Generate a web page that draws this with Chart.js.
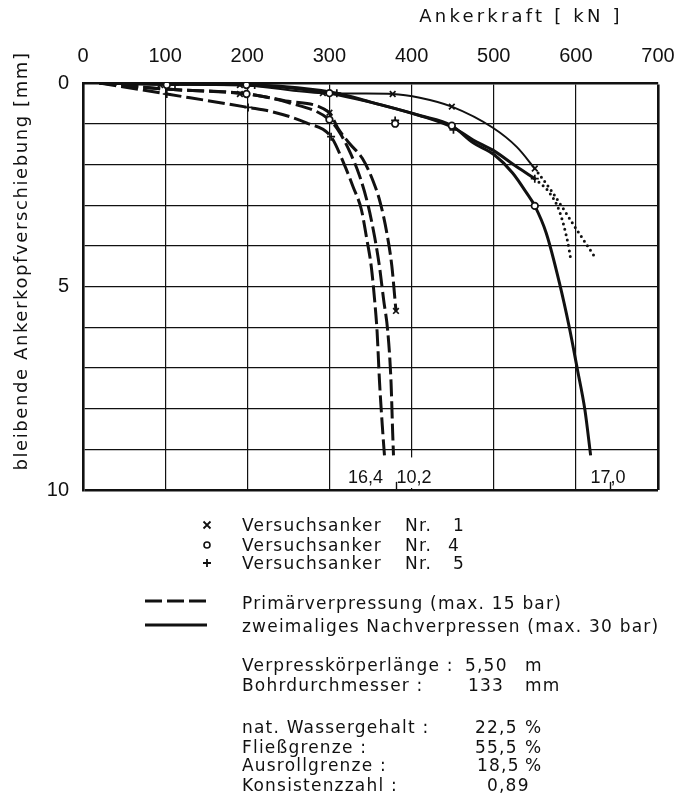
<!DOCTYPE html>
<html lang="de">
<head>
<meta charset="utf-8">
<title>Ankerkraft – bleibende Ankerkopfverschiebung</title>
<script src="https://cdn.jsdelivr.net/npm/chart.js@4.4.1/dist/chart.umd.min.js"></script>
<style>
  body { margin: 0; background: #fff; }
  #wrap { position: relative; width: 675px; height: 799px; overflow: hidden; }
  #chart { position: absolute; left: 0; top: 0; }
  #zeichen { position: absolute; left: 0; top: 0; }
  .t {
    position: absolute;
    font-family: "DejaVu Sans", sans-serif;
    font-size: 17px;
    line-height: 20px;
    color: #111;
    letter-spacing: 1.2px;
    white-space: pre;
  }
</style>
</head>
<body>
<div id="wrap">
  <canvas id="chart" width="675" height="500"></canvas>

  <!-- Legende: Symbole und Linienarten -->
  <svg id="zeichen" width="675" height="799">
    <g stroke="#111" stroke-width="1.8" fill="none">
      <path d="M203.5 521.5 L210.5 528.5 M203.5 528.5 L210.5 521.5"/>
      <circle cx="207" cy="545" r="3" fill="#fff" stroke-width="1.6"/>
      <path d="M207 559 L207 567 M203 563 L211 563"/>
      <line x1="145" y1="601" x2="207" y2="601" stroke-width="3" stroke-dasharray="17 5"/>
      <line x1="145" y1="625" x2="207" y2="625" stroke-width="3"/>
    </g>
  </svg>

  <div class="t" style="left:242px; top:515px">Versuchsanker</div>
  <div class="t" style="left:405px; top:515px">Nr.</div>
  <div class="t" style="left:453px; top:515px">1</div>
  <div class="t" style="left:242px; top:535px">Versuchsanker</div>
  <div class="t" style="left:405px; top:535px">Nr.</div>
  <div class="t" style="left:448px; top:535px">4</div>
  <div class="t" style="left:242px; top:553px">Versuchsanker</div>
  <div class="t" style="left:405px; top:553px">Nr.</div>
  <div class="t" style="left:453px; top:553px">5</div>

  <div class="t" style="left:242px; top:593px">Primärverpressung (max. 15 bar)</div>
  <div class="t" style="left:242px; top:616px">zweimaliges Nachverpressen (max. 30 bar)</div>

  <div class="t" style="left:242px; top:655px">Verpresskörperlänge :</div>
  <div class="t" style="left:465px; top:655px">5,50</div>
  <div class="t" style="left:525px; top:655px">m</div>
  <div class="t" style="left:242px; top:675px">Bohrdurchmesser :</div>
  <div class="t" style="left:468px; top:675px">133</div>
  <div class="t" style="left:525px; top:675px">mm</div>

  <div class="t" style="left:242px; top:717px">nat. Wassergehalt :</div>
  <div class="t" style="left:475px; top:717px">22,5</div>
  <div class="t" style="left:525px; top:717px">%</div>
  <div class="t" style="left:242px; top:737px">Fließgrenze :</div>
  <div class="t" style="left:475px; top:737px">55,5</div>
  <div class="t" style="left:525px; top:737px">%</div>
  <div class="t" style="left:242px; top:755px">Ausrollgrenze :</div>
  <div class="t" style="left:477px; top:755px">18,5</div>
  <div class="t" style="left:525px; top:755px">%</div>
  <div class="t" style="left:242px; top:775px">Konsistenzzahl :</div>
  <div class="t" style="left:487px; top:775px">0,89</div>
</div>

<script>
// ── Achsenbeschriftung ────────────────────────────────────────
const kraftLabels = [0, 100, 200, 300, 400, 500, 600, 700];   // kN
const wegLabels   = [0, 5, 10];                                  // mm

// ── Primärverpressung (gestrichelt) ───────────────────────────
const primaerKraft1 = [20, 100, 200, 250, 300, 310, 325, 340, 353, 362, 370, 376, 381];
const primaerWeg1   = [0, 0.15, 0.27, 0.45, 0.73, 1.1, 1.5, 1.85, 2.4, 2.95, 3.7, 4.5, 5.6];
const primaerKraft4 = [20, 100, 200, 250, 300, 312, 325, 337, 347, 355, 361, 366, 371, 375, 377, 378];
const primaerWeg4   = [0, 0.15, 0.27, 0.48, 0.9, 1.2, 1.7, 2.3, 3.0, 3.78, 4.52, 5.33, 6.1, 7.35, 8.6, 9.15];
const primaerKraft5 = [20, 102, 201, 231, 272, 302, 318, 329, 339, 345, 351, 355, 358, 361, 365, 367];
const primaerWeg5   = [0, 0.27, 0.6, 0.71, 0.98, 1.32, 2.0, 2.56, 3.12, 3.78, 4.52, 5.33, 6.1, 7.35, 8.6, 9.15];

// ── Zweimaliges Nachverpressen (durchgezogen) ─────────────────
const nachKraft1 = [20, 95, 190, 291, 340, 377, 410, 449, 499, 528, 550];
const nachWeg1   = [0, 0.03, 0.05, 0.25, 0.26, 0.27, 0.36, 0.58, 1.1, 1.57, 2.1];
const nachKraft4 = [20, 100, 200, 300, 350, 410, 449, 475, 501, 523, 540, 550, 564, 580, 592, 602, 611, 618];
const nachWeg4   = [0, 0.03, 0.05, 0.25, 0.47, 0.8, 1.05, 1.47, 1.77, 2.21, 2.7, 3.02, 3.69, 4.91, 6.0, 7.05, 8.03, 9.15];
const nachKraft5 = [20, 110, 209, 309, 350, 410, 451, 475, 499, 528, 550];
const nachWeg5   = [0, 0.03, 0.05, 0.25, 0.47, 0.8, 1.1, 1.4, 1.65, 2.06, 2.35];

// ── Extrapolation (punktiert) ─────────────────────────────────
const punktKraftA = [550, 572, 599, 624];
const punktWegA   = [2.1, 2.7, 3.54, 4.3];
const punktKraftB = [550, 568, 580, 590, 594];
const punktWegB   = [2.35, 2.7, 3.15, 3.9, 4.35];

// ── Messpunkte der Versuchsanker ──────────────────────────────
const anker1Kraft = [94, 191, 191, 292, 300, 377, 449, 550, 381];
const anker1Weg   = [0.05, 0.05, 0.27, 0.25, 0.73, 0.27, 0.58, 2.1, 5.6];
const anker4Kraft = [102, 199, 199, 300, 300, 380, 449, 550];
const anker4Weg   = [0.05, 0.05, 0.27, 0.25, 0.9, 1.0, 1.05, 3.02];
const anker5Kraft = [112, 102, 209, 201, 309, 302, 380, 451, 550];
const anker5Weg   = [0.05, 0.27, 0.05, 0.6, 0.25, 1.32, 0.92, 1.15, 2.35];

// ── Endwerte unten im Diagramm ────────────────────────────────
const endTexte = ['16,4', '10,2', '17,0'];
const endKraft = [344, 403, 639];
const endMarke = [381, 641];

// ── Farben / Schriften ────────────────────────────────────────
const SCHWARZ     = '#111';
const FONT_TEXT   = '"DejaVu Sans", sans-serif';
const FONT_ZAHLEN = '"Liberation Sans", sans-serif';

function pts(xs, ys) {
    return xs.map((x, i) => ({ x: x, y: ys[i] }));
}

function linie(data, art) {
    const ds = {
        type: 'line',
        data: data,
        borderColor: SCHWARZ,
        borderWidth: 3,
        pointRadius: 0,
        fill: false,
        cubicInterpolationMode: 'monotone',
        order: 2
    };
    if (art === 'strich') ds.borderDash = [17, 5];
    if (art === 'duenn')  ds.borderWidth = 2;
    if (art === 'punkt')  { ds.borderDash = [0, 5.5]; ds.borderCapStyle = 'round'; ds.borderWidth = 3; }
    return ds;
}

function marken(data, stil) {
    return {
        type: 'scatter',
        data: data,
        showLine: false,
        pointStyle: stil,
        pointRadius: stil === 'circle' ? 3.3 : 4,
        pointBorderWidth: 1.7,
        pointBorderColor: SCHWARZ,
        pointBackgroundColor: '#fff',
        order: 0
    };
}

// Kein Zusatzrand für überstehende Achsenzahlen
function ohneRand(s) {
    s.paddingLeft = 0;
    s.paddingRight = 0;
    s.paddingTop = 0;
    s.paddingBottom = 0;
}

// ── Zusatzbeschriftung (Achsentitel, Endwerte) ────────────────
const beschriftung = {
    id: 'beschriftung',
    beforeDatasetsDraw(chart) {
        // 400er-Gitterlinie endet oberhalb der Endwerte
        const { ctx, scales: { x, y } } = chart;
        const px = x.getPixelForValue(400);
        const y0 = y.getPixelForValue(9.2);
        ctx.save();
        ctx.fillStyle = '#fff';
        ctx.fillRect(px - 2, y0, 4, y.getPixelForValue(10) - y0 - 2);
        ctx.restore();
    },
    afterDraw(chart) {
        const { ctx, scales: { x, y } } = chart;
        ctx.save();
        ctx.fillStyle = SCHWARZ;
        ctx.textBaseline = 'middle';

        // Titel der Kraftachse
        ctx.font = '18px ' + FONT_TEXT;
        ctx.letterSpacing = '3.2px';
        ctx.textAlign = 'center';
        ctx.fillText('Ankerkraft [ kN ]', 521, 17);

        // Titel der Verschiebungsachse
        ctx.letterSpacing = '1.6px';
        ctx.translate(22, 261);
        ctx.rotate(-Math.PI / 2);
        ctx.fillText('bleibende Ankerkopfverschiebung [mm]', 0, 0);
        ctx.setTransform(1, 0, 0, 1, 0, 0);

        // Endwerte
        ctx.letterSpacing = '0px';
        ctx.font = '18px ' + FONT_ZAHLEN;
        endTexte.forEach((t, i) => {
            ctx.fillText(t, x.getPixelForValue(endKraft[i]), y.getPixelForValue(9.7));
        });
        ctx.strokeStyle = SCHWARZ;
        ctx.lineWidth = 1.4;
        endMarke.forEach(k => {
            const px = Math.round(x.getPixelForValue(k)) + 0.5;
            ctx.beginPath();
            ctx.moveTo(px, y.getPixelForValue(9.8));
            ctx.lineTo(px, y.getPixelForValue(10));
            ctx.stroke();
        });
        ctx.restore();
    }
};

// ── Diagramm ──────────────────────────────────────────────────
const ctx = document.getElementById('chart').getContext('2d');

new Chart(ctx, {
    type: 'line',
    data: {
        datasets: [
            marken(pts(anker1Kraft, anker1Weg), 'crossRot'),
            marken(pts(anker4Kraft, anker4Weg), 'circle'),
            marken(pts(anker5Kraft, anker5Weg), 'cross'),
            linie(pts(primaerKraft1, primaerWeg1), 'strich'),
            linie(pts(primaerKraft4, primaerWeg4), 'strich'),
            linie(pts(primaerKraft5, primaerWeg5), 'strich'),
            linie(pts(nachKraft1, nachWeg1), 'duenn'),
            linie(pts(nachKraft4, nachWeg4), 'voll'),
            linie(pts(nachKraft5, nachWeg5), 'voll'),
            linie(pts(punktKraftA, punktWegA), 'punkt'),
            linie(pts(punktKraftB, punktWegB), 'punkt')
        ]
    },
    options: {
        responsive: false,
        maintainAspectRatio: false,
        devicePixelRatio: 1,
        animation: false,
        layout: { padding: { left: 0, top: 0, right: 17, bottom: 10 } },
        plugins: {
            legend: { display: false },
            tooltip: { enabled: false }
        },
        scales: {
            x: {
                type: 'linear',
                position: 'top',
                min: 0,
                max: 700,
                afterFit: s => { s.height = 83; ohneRand(s); },
                ticks: {
                    stepSize: 100,
                    padding: 15,
                    color: SCHWARZ,
                    font: { family: FONT_ZAHLEN, size: 20 },
                    callback: v => kraftLabels.includes(v) ? v : ''
                },
                grid: {
                    color: SCHWARZ,
                    lineWidth: c => (c.tick && c.tick.value === 700 ? 2.6 : 1.2),
                    drawTicks: false
                },
                border: { display: true, color: SCHWARZ, width: 2.6 }
            },
            y: {
                type: 'linear',
                reverse: true,
                min: 0,
                max: 10,
                afterFit: s => { s.width = 83; ohneRand(s); },
                ticks: {
                    stepSize: 1,
                    padding: 14,
                    color: SCHWARZ,
                    font: { family: FONT_ZAHLEN, size: 20 },
                    callback: v => wegLabels.includes(v) ? v : ''
                },
                grid: {
                    color: SCHWARZ,
                    lineWidth: c => (c.tick && c.tick.value === 10 ? 2.6 : 1.2),
                    drawTicks: false
                },
                border: { display: true, color: SCHWARZ, width: 2.6 }
            }
        }
    },
    plugins: [beschriftung]
});
</script>
</body>
</html>
